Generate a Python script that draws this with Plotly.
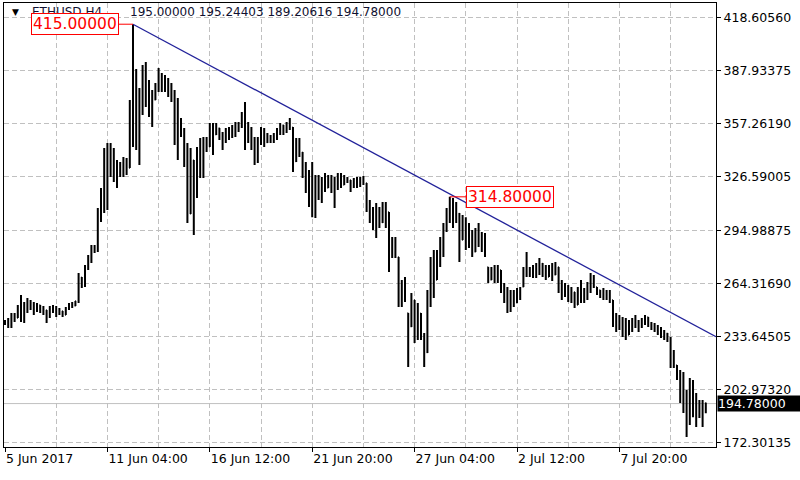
import pandas as pd
import plotly.graph_objects as go

symbol = "ETHUSD,H4"
first_bar = "2017-06-05 20:00"

opens = [241.0,242.1,243.3,246.2,244.4,250.8,252.0,247.9,254.3,252.0,248.5,252.0,248.5,249.1,245.0,250.3,248.5,246.8,248.5,246.2,
 250.3,252.5,251.4,254.3,268.0,263.6,274.0,279.9,283.9,285.1,306.0,315.8,342.0,330.4,342.0,327.5,333.3,329.2,336.2,331.5,
 368.1,388.0,347.8,373.9,388.4,371.0,376.0,371.0,379.7,385.5,377.9,382.6,375.6,373.9,347.8,360.0,353.6,336.2,305.0,336.0,
 315.0,342.0,330.4,347.8,344.0,356.5,351.0,354.7,350.7,349.0,353.6,350.7,354.7,353.6,357.0,362.3,347.8,354.7,344.9,336.2,
 347.8,353.6,346.5,348.9,347.8,350.7,353.6,356.5,352.4,357.0,355.0,335.5,344.9,340.5,327.5,318.8,324.6,307.1,324.6,315.8,
 324.6,319.9,325.7,318.8,324.6,327.5,321.7,325.7,324.6,323.4,324.6,321.7,324.6,322.8,308.3,301.4,306.0,307.1,300.0,310.0,
 306.0,280.0,281.0,279.9,254.9,263.6,247.3,239.5,254.9,234.6,247.0,234.6,224.5,254.9,275.2,266.5,281.0,286.8,295.5,306.0,
 307.1,301.4,305.0,289.8,301.4,286.8,295.0,282.8,294.4,289.8,292.6,274.0,266.5,272.3,266.5,272.3,260.7,256.0,249.1,257.8,
 253.5,259.6,262.4,272.3,271.2,272.3,269.4,274.0,276.0,271.2,268.3,274.0,269.4,274.0,261.9,257.8,262.4,256.0,259.6,252.0,
 260.7,256.0,260.7,263.6,267.7,262.4,260.7,257.8,259.6,256.0,254.9,242.1,244.4,238.6,243.3,234.6,240.4,243.3,240.4,242.1,
 243.3,245.0,240.4,241.0,237.5,238.6,234.6,235.5,231.7,220.1,217.0,211.4,199.8,202.0,183.0,205.6,191.1,187.0,193.9,195.0]

highs = [243.3,244.4,247.3,247.3,252.0,257.8,253.7,256.0,254.9,253.7,253.1,252.0,251.4,249.1,251.4,252.0,251.4,250.3,248.5,250.8,
 253.1,253.7,254.3,270.6,268.3,275.2,281.0,286.8,286.8,308.3,319.9,343.1,346.1,346.1,343.1,336.2,335.0,337.9,337.3,371.0,
 415.0,389.0,377.9,391.3,393.1,382.6,376.8,380.9,389.6,386.7,385.5,383.8,380.9,376.8,372.2,360.5,354.7,346.1,343.1,336.2,
 343.7,348.9,349.5,349.5,357.6,357.6,357.6,354.7,352.4,354.7,355.3,356.5,358.2,358.2,364.0,369.8,358.2,355.3,349.5,349.5,
 355.3,354.7,351.9,350.7,351.9,354.7,357.6,356.5,358.2,360.5,355.3,348.9,348.9,340.8,335.0,330.4,335.0,327.5,327.5,326.3,
 328.6,327.5,327.5,326.3,328.6,328.6,327.5,326.3,324.6,325.7,326.3,326.3,326.9,322.8,313.0,308.9,311.2,308.9,311.8,311.8,
 306.0,291.5,291.5,279.9,266.5,268.3,247.3,258.9,254.9,253.1,247.3,235.7,260.7,279.9,283.9,283.9,291.5,299.6,308.3,314.8,
 314.1,311.8,305.4,304.2,303.0,299.6,295.5,296.7,299.6,294.4,293.8,274.0,274.0,275.2,275.2,272.3,264.8,262.4,260.7,260.7,
 261.9,262.4,274.0,282.8,274.0,275.2,276.4,279.3,276.4,275.2,275.2,276.4,276.9,274.0,266.5,264.8,263.6,262.4,259.6,262.4,
 266.5,261.9,265.3,270.6,269.4,262.4,260.7,261.9,260.7,260.7,254.9,247.3,246.2,245.0,244.4,243.3,244.4,246.2,243.3,244.4,
 246.2,245.0,242.1,241.5,240.4,239.2,237.5,235.7,233.4,225.9,217.2,214.3,213.1,202.7,209.6,208.5,200.9,196.9,196.9,195.24403]

lows = [240.4,238.6,238.6,242.1,244.4,242.1,241.5,247.3,249.1,246.2,247.9,247.3,246.2,241.5,244.4,247.3,245.0,246.2,245.0,246.2,
 249.1,250.3,251.4,253.1,261.9,262.4,272.3,276.4,282.2,282.8,300.2,305.4,307.1,326.3,323.4,319.9,326.3,326.3,327.5,331.5,
 343.7,342.0,333.3,362.3,366.9,361.1,355.3,371.0,375.6,375.6,375.6,372.7,369.8,344.9,336.2,349.5,332.1,299.6,304.8,292.6,
 314.1,325.7,325.7,340.8,343.7,339.1,350.7,347.8,342.0,346.1,347.8,348.9,349.5,352.4,354.7,342.0,346.1,342.0,333.3,334.4,
 344.9,343.7,346.1,346.1,346.1,347.8,350.7,350.7,351.9,353.6,329.2,335.0,337.9,325.7,317.0,308.9,303.0,302.5,313.0,311.2,
 317.6,319.9,317.0,308.3,318.8,319.9,321.7,322.8,317.6,319.9,319.9,320.5,321.7,306.0,299.6,295.5,290.9,296.7,299.6,296.7,
 271.2,279.3,279.3,250.8,250.8,253.7,216.0,239.2,229.9,231.7,231.7,216.0,224.1,250.8,256.0,266.5,274.0,279.9,294.4,299.6,
 296.7,299.6,276.9,289.8,283.9,285.1,279.9,282.8,285.6,282.8,279.9,264.8,266.5,264.8,264.8,258.9,253.1,247.3,247.9,250.8,
 253.1,254.9,262.4,268.3,268.3,267.7,267.7,269.4,268.3,266.5,268.3,265.9,269.4,258.9,254.9,256.6,253.7,253.1,250.3,252.0,
 253.1,253.1,254.9,258.9,261.9,257.8,256.0,254.9,254.9,253.1,239.2,236.3,237.5,233.4,231.7,234.6,236.3,238.6,236.3,238.6,
 240.4,239.2,237.5,236.3,234.6,232.9,231.7,230.5,215.4,215.4,208.5,195.1,189.3,175.4,182.3,186.9,181.2,186.4,181.2,189.20616]

closes = [242.1,243.3,246.2,244.4,250.8,252.0,244.4,254.9,252.0,247.9,252.5,248.5,250.3,243.3,250.3,248.5,246.8,249.1,246.2,250.3,
 252.5,251.4,254.3,269.4,263.6,274.0,279.9,283.9,285.1,306.0,315.8,342.0,330.4,342.0,327.5,333.3,329.2,336.2,331.5,368.1,
 394.2,347.8,373.9,388.4,371.0,379.7,359.4,379.7,385.5,377.9,382.6,375.6,373.9,347.8,365.2,353.6,336.2,304.2,339.1,298.4,
 342.0,330.4,347.8,342.0,356.5,342.0,354.7,350.7,349.0,353.6,350.7,354.7,353.6,357.0,362.3,347.8,354.7,344.9,336.2,347.8,
 353.6,344.9,348.9,347.8,350.7,353.6,356.5,352.4,357.0,359.4,333.3,344.9,342.0,327.5,318.8,324.6,307.1,324.6,315.8,324.6,
 319.9,325.7,318.8,324.6,327.5,321.7,325.7,324.6,323.4,324.6,321.7,324.6,322.8,308.3,301.4,306.0,307.1,298.4,310.0,306.0,
 275.2,281.0,289.8,254.9,263.6,254.9,220.1,254.9,234.6,249.1,234.6,220.1,254.9,275.2,263.6,281.0,286.8,295.5,306.0,307.1,
 301.4,310.0,281.0,301.4,286.8,296.7,282.8,294.4,289.8,292.6,281.0,266.5,272.3,266.5,272.3,260.7,256.0,249.1,257.8,252.0,
 259.6,260.7,272.3,271.2,272.3,269.4,274.0,276.9,271.2,268.3,274.0,267.7,275.2,261.9,257.8,262.4,256.0,259.6,252.0,260.7,
 256.0,260.7,263.6,267.7,263.6,260.7,257.8,259.6,256.0,254.9,242.1,244.4,238.6,243.3,234.0,240.4,243.3,240.4,242.1,243.3,
 245.0,240.4,241.0,237.5,238.6,234.6,236.3,231.7,220.1,223.0,211.4,199.8,208.5,179.5,205.6,191.1,185.3,193.9,195.0,194.78]

# marked highs (text labels) and trend line anchors
label_bars = [40, 139]
label_prices = [415.0, 314.8]
trend_times = ["2017-06-12 12:00", "2017-07-12 20:45"]
trend_prices = [415.0, 233.6]

# axis ticks
price_ticks = [172.30135, 202.97320, 233.64505, 264.31690, 294.98875, 326.59005, 357.26190, 387.93375, 418.60560]
time_ticks = ["2017-06-05 20:00", "2017-06-11 04:00", "2017-06-16 12:00", "2017-06-21 20:00",
              "2017-06-27 04:00", "2017-07-02 12:00", "2017-07-07 20:00"]
time_labels = ["5 Jun 2017", "11 Jun 04:00", "16 Jun 12:00", "21 Jun 20:00", "27 Jun 04:00", "2 Jul 12:00", "7 Jul 20:00"]

times = pd.date_range(first_bar, periods=len(closes), freq="4h")

FONT = "DejaVu Sans"
fig = go.Figure()

fig.add_trace(go.Ohlc(
    x=times, open=opens, high=highs, low=lows, close=closes,
    increasing=dict(line=dict(color="black", width=2)),
    decreasing=dict(line=dict(color="black", width=2)),
    tickwidth=0.2, hoverinfo="skip", showlegend=False,
))

fig.add_trace(go.Scatter(
    x=pd.to_datetime(trend_times), y=trend_prices, mode="lines",
    line=dict(color="#22229a", width=1.3), hoverinfo="skip", showlegend=False,
))

# current price line
fig.add_shape(type="line", xref="paper", x0=0, x1=1, yref="y", y0=closes[-1], y1=closes[-1],
              line=dict(color="#c0c0c0", width=1), layer="below")

grid = dict(gridcolor="#c0c0c0", griddash="5px,3px", gridwidth=1)

fig.update_layout(
    width=800, height=480,
    margin=dict(l=4, r=84, t=3, b=33),
    paper_bgcolor="white", plot_bgcolor="white",
    font=dict(family=FONT, size=12.5, color="black"),
    showlegend=False,
    xaxis=dict(
        type="date",
        range=["2017-06-05 18:45", "2017-07-12 20:45"],
        rangeslider=dict(visible=False),
        tickmode="array", tickvals=pd.to_datetime(time_ticks), ticktext=time_labels,
        ticks="outside", ticklen=4, tickcolor="black",
        ticklabelposition="outside right",
        showline=True, linecolor="black", linewidth=1, mirror=True,
        showgrid=True, **grid,
        minor=dict(tick0=first_bar, dtick=64 * 3600 * 1000, showgrid=True, ticks="", **grid),
        zeroline=False, fixedrange=True,
    ),
    yaxis=dict(
        side="right",
        range=[169.57, 427.31],
        tickmode="array", tickvals=price_ticks, tickformat=".5f",
        ticks="outside", ticklen=4, tickcolor="black",
        showline=True, linecolor="black", linewidth=1, mirror=True,
        showgrid=True, **grid,
        zeroline=False, fixedrange=True,
    ),
)

ann = []
# header
ann.append(dict(xref="paper", yref="paper", x=0.0085, y=0.979, xanchor="left", yanchor="middle",
                text="▼", showarrow=False, font=dict(size=9, color="black")))
ann.append(dict(xref="paper", yref="paper", x=0.0365, y=0.979, xanchor="left", yanchor="middle",
                text=symbol, showarrow=False, font=dict(size=12, color="#101030")))
ann.append(dict(xref="paper", yref="paper", x=0.1735, y=0.979, xanchor="left", yanchor="middle",
                text=f"{opens[-1]:.5f} {highs[-1]:.5f} {lows[-1]:.5f} {closes[-1]:.5f}",
                showarrow=False, font=dict(size=12, color="#101030")))
# marked highs
offsets = [-58.5, 60]
for b, p, off in zip(label_bars, label_prices, offsets):
    ann.append(dict(x=times[b], y=p, xref="x", yref="y", text=f"{p:.5f}",
                    showarrow=True, arrowhead=0, arrowwidth=1, arrowcolor="red",
                    ax=off, ay=0, bgcolor="white", bordercolor="red", borderwidth=1, borderpad=1,
                    font=dict(size=15.5, color="red")))
# current price tag
ann.append(dict(xref="paper", yref="y", x=1, y=closes[-1], xanchor="left", yanchor="middle", xshift=1,
                text=f"{closes[-1]:.5f}", showarrow=False, bgcolor="black", width=82, height=15,
                align="left", borderpad=0, font=dict(size=12.5, color="white")))
fig.update_layout(annotations=ann)

fig.write_html("out.html", config={"displayModeBar": False},
               post_script="document.body.style.margin='0';")
